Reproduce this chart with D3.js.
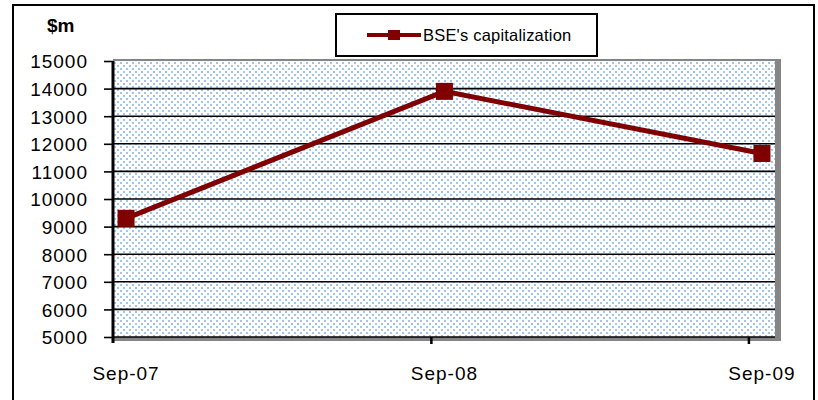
<!DOCTYPE html>
<html lang="en">
<head>
  <meta charset="UTF-8">
  <title>BSE capitalization</title>
  <script src="https://cdn.jsdelivr.net/npm/d3@7"></script>
  <style>
    body { margin: 0; background: #fff; }
    text { font-family: "Liberation Sans", Arial, sans-serif; fill: #000; }
  </style>
</head>
<body>
<div id="chart"></div>

<script type="text/javascript">

  // data
  var categories = ["Sep-07", "Sep-08", "Sep-09"];
  var dates = ["2007-09-16", "2008-09-16", "2009-09-16"];
  var capitalization = [9300, 13900, 11650];
  var yTicks = [5000, 6000, 7000, 8000, 9000, 10000, 11000, 12000, 13000, 14000, 15000];
  var monthTicks = ["2007-09-01", "2008-09-01", "2009-09-01"];
  var seriesName = "BSE's capitalization";

  var parse = d3.timeParse("%Y-%m-%d");

  var data = categories.map(function(c, i) {
    return { label: c, date: parse(dates[i]), value: capitalization[i] };
  });

  var width = 818, height = 400;
  var plotLeft = 113, plotRight = 775, plotTop = 61, plotBottom = 337;

  var svg = d3.select("#chart").append("svg")
    .attr("width", width)
    .attr("height", height);

  // dotted fill for plot area
  var pat = svg.append("defs").append("pattern")
    .attr("id", "dots")
    .attr("patternUnits", "userSpaceOnUse")
    .attr("x", plotLeft).attr("y", plotTop)
    .attr("width", 6).attr("height", 6);
  pat.append("rect").attr("width", 6).attr("height", 6).attr("fill", "#fff");
  pat.append("rect").attr("x", 1).attr("y", 1).attr("width", 2).attr("height", 2).attr("fill", "#a2c5ef");
  pat.append("rect").attr("x", 4).attr("y", 4).attr("width", 2).attr("height", 2).attr("fill", "#a2c5ef");

  var x = d3.scaleTime()
    .domain([parse("2007-09-01"), parse("2009-10-01")])
    .range([plotLeft, plotRight]);

  var y = d3.scaleLinear()
    .domain([5000, 15000])
    .range([plotBottom, plotTop]);

  // outer frame
  svg.append("rect")
    .attr("x", 13).attr("y", 5)
    .attr("width", 801).attr("height", 420)
    .attr("fill", "none")
    .attr("stroke", "#000")
    .attr("stroke-width", 2);

  // plot area shadow + fill
  svg.append("rect")
    .attr("x", plotLeft).attr("y", plotTop - 2)
    .attr("width", plotRight - plotLeft + 6).attr("height", plotBottom - plotTop + 6)
    .attr("fill", "#858585");
  svg.append("rect")
    .attr("x", plotLeft).attr("y", plotTop)
    .attr("width", plotRight - plotLeft).attr("height", plotBottom - plotTop)
    .attr("fill", "url(#dots)");

  // gridlines
  svg.selectAll("line.grid")
    .data(yTicks.slice(0, yTicks.length - 1))
    .enter()
    .append("line")
    .attr("class", "grid")
    .attr("x1", plotLeft).attr("x2", plotRight)
    .attr("y1", function(d) { return y(d); })
    .attr("y2", function(d) { return y(d); })
    .attr("stroke", "#000")
    .attr("stroke-width", 1.6);

  // y axis
  var yAxis = d3.axisLeft(y)
    .tickValues(yTicks)
    .tickSize(9)
    .tickPadding(16)
    .tickFormat(d3.format("d"));

  var gy = svg.append("g")
    .attr("transform", "translate(" + plotLeft + ",0)")
    .call(yAxis);
  gy.select(".domain").remove();
  gy.selectAll(".tick line").attr("stroke", "#000").attr("stroke-width", 1.6);
  gy.selectAll(".tick text")
    .style("font-size", "19px")
    .style("letter-spacing", "1px")
    .attr("dy", "0.36em");

  svg.append("line")
    .attr("x1", plotLeft).attr("x2", plotLeft)
    .attr("y1", plotTop).attr("y2", plotBottom + 6)
    .attr("stroke", "#000")
    .attr("stroke-width", 3);

  // x axis ticks at month boundaries, labels under the points
  svg.selectAll("line.xtick")
    .data(monthTicks.slice(1))
    .enter()
    .append("line")
    .attr("class", "xtick")
    .attr("x1", function(d) { return x(parse(d)); })
    .attr("x2", function(d) { return x(parse(d)); })
    .attr("y1", plotBottom)
    .attr("y2", plotBottom + 7)
    .attr("stroke", "#000")
    .attr("stroke-width", 2.5);

  svg.selectAll("text.xlabel")
    .data(data)
    .enter()
    .append("text")
    .attr("class", "xlabel")
    .attr("text-anchor", "middle")
    .attr("x", function(d) { return x(d.date); })
    .attr("y", 380)
    .style("font-size", "19px")
    .style("letter-spacing", "1px")
    .text(function(d) { return d.label; });

  svg.append("text")
    .attr("x", 47).attr("y", 32)
    .style("font-size", "19px")
    .style("font-weight", "bold")
    .text("$m");

  // series
  var line = d3.line()
    .x(function(d) { return x(d.date); })
    .y(function(d) { return y(d.value); });

  svg.append("path")
    .datum(data)
    .attr("d", line)
    .attr("fill", "none")
    .attr("stroke", "#800000")
    .attr("stroke-width", 5);

  var m = 17;
  svg.selectAll("rect.marker")
    .data(data)
    .enter()
    .append("rect")
    .attr("class", "marker")
    .attr("x", function(d) { return x(d.date) - m / 2; })
    .attr("y", function(d) { return y(d.value) - m / 2; })
    .attr("width", m).attr("height", m)
    .attr("fill", "#800000");

  // legend
  var legend = svg.append("g");
  legend.append("rect")
    .attr("x", 336).attr("y", 14)
    .attr("width", 261).attr("height", 42)
    .attr("fill", "#fff")
    .attr("stroke", "#000")
    .attr("stroke-width", 2);
  legend.append("line")
    .attr("x1", 367).attr("x2", 421)
    .attr("y1", 35).attr("y2", 35)
    .attr("stroke", "#800000")
    .attr("stroke-width", 4);
  legend.append("rect")
    .attr("x", 388).attr("y", 30)
    .attr("width", 12).attr("height", 10)
    .attr("fill", "#800000");
  legend.append("text")
    .attr("x", 423).attr("y", 41)
    .style("font-size", "16.5px")
    .style("letter-spacing", "0.2px")
    .text(seriesName);

</script>
</body>
</html>
